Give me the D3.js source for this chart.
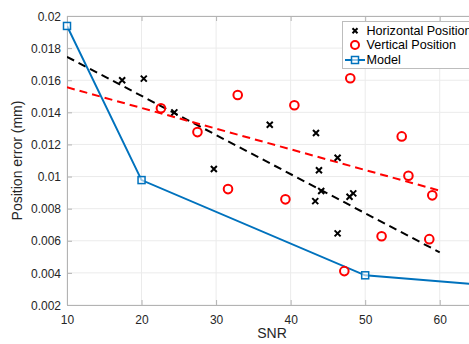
<!DOCTYPE html>
<html>
<head>
<meta charset="utf-8">
<script src="https://cdn.jsdelivr.net/npm/d3@7/dist/d3.min.js"></script>
<style>
  body { margin: 0; background: #fff; }
  svg { display: block; font-family: "Liberation Sans", Arial, Helvetica, sans-serif; }
</style>
</head>
<body>
<svg id="chart" width="469" height="344"></svg>
<script>
// 数据：从图中读取
const horizSNR = [17.4, 20.3, 24.4, 29.7, 37.2, 43.4, 46.3, 43.8, 44.1, 43.3, 47.9, 48.4, 46.3];
const horizErr = [0.0160, 0.0161, 0.0140, 0.01047, 0.01323, 0.01271, 0.01117, 0.01039, 0.0091, 0.00847, 0.00874, 0.00895, 0.00646];

const vertSNR = [22.6, 27.5, 32.9, 31.6, 39.3, 40.5, 48.0, 47.2, 54.9, 55.8, 59.0, 52.2, 58.6];
const vertErr = [0.01425, 0.01277, 0.01508, 0.00922, 0.00858, 0.01444, 0.01612, 0.00411, 0.0125, 0.01005, 0.00883, 0.00628, 0.0061];

const modelSNR = [10, 20, 50, 70];
const modelErr = [0.01938, 0.00978, 0.00385, 0.0031];

// 拟合虚线端点
const horizFitSNR = [10, 60];
const horizFitErr = [0.01746, 0.00528];
const vertFitSNR = [10, 60];
const vertFitErr = [0.01556, 0.00912];

const xTicks = [10, 20, 30, 40, 50, 60];
const yTicks = [0.002, 0.004, 0.006, 0.008, 0.01, 0.012, 0.014, 0.016, 0.018, 0.02];
const legendLabels = ["Horizontal Position", "Vertical Position", "Model"];

// 尺寸
const margin = { left: 67, top: 16, right: 477, bottom: 305 };
const svg = d3.select("#chart");

const x = d3.scaleLinear().domain([10, 65]).range([margin.left, margin.right]);
const y = d3.scaleLinear().domain([0.002, 0.02]).range([margin.bottom, margin.top]);

const textColor = "#262626";
const axisColor = "#b3b3b3";

// 网格
const grid = svg.append("g");
grid.selectAll(".gx").data(xTicks).enter().append("line")
    .attr("x1", d => x(d)).attr("x2", d => x(d))
    .attr("y1", margin.top).attr("y2", margin.bottom)
    .attr("stroke", "#ebebeb").attr("stroke-width", 1);
grid.selectAll(".gy").data(yTicks).enter().append("line")
    .attr("x1", margin.left).attr("x2", margin.right)
    .attr("y1", d => y(d)).attr("y2", d => y(d))
    .attr("stroke", "#ebebeb").attr("stroke-width", 1);

// 坐标轴（刻度朝内）
const fmtY = d => String(+d.toFixed(3));
const xAxis = svg.append("g").attr("transform", `translate(0,${margin.bottom})`)
    .call(d3.axisBottom(x).tickValues(xTicks).tickSizeInner(-5).tickSizeOuter(0).tickPadding(10));
const xAxisTop = svg.append("g").attr("transform", `translate(0,${margin.top})`)
    .call(d3.axisTop(x).tickValues(xTicks).tickSizeInner(-5).tickSizeOuter(0).tickFormat(""));
const yAxis = svg.append("g").attr("transform", `translate(${margin.left},0)`)
    .call(d3.axisLeft(y).tickValues(yTicks).tickSizeInner(-5).tickSizeOuter(0).tickFormat(fmtY).tickPadding(6));

[xAxis, xAxisTop, yAxis].forEach(g => {
    g.select(".domain").attr("stroke", axisColor);
    g.selectAll(".tick line").attr("stroke", axisColor);
    g.selectAll(".tick text").attr("fill", textColor).style("font-size", "12px");
});
yAxis.selectAll(".tick text").attr("dy", "0.35em");

// 轴标签
svg.append("text")
    .attr("x", (margin.left + margin.right) / 2).attr("y", 338)
    .attr("text-anchor", "middle").attr("fill", textColor)
    .style("font-size", "14px").text("SNR");
svg.append("text")
    .attr("transform", `translate(22,${(margin.top + margin.bottom) / 2}) rotate(-90)`)
    .attr("text-anchor", "middle").attr("fill", textColor)
    .style("font-size", "14px").text("Position error (mm)");

// 裁剪区域（只裁线，不裁标记）
svg.append("clipPath").attr("id", "clip")
    .append("rect").attr("x", margin.left).attr("y", margin.top)
    .attr("width", margin.right - margin.left).attr("height", margin.bottom - margin.top);

const plot = svg.append("g").attr("clip-path", "url(#clip)");
const marks = svg.append("g");
const line = d3.line().x(d => x(d[0])).y(d => y(d[1]));

// 拟合虚线
plot.append("path")
    .datum(horizFitSNR.map((s, i) => [s, horizFitErr[i]]))
    .attr("d", line).attr("fill", "none")
    .attr("stroke", "#000").attr("stroke-width", 2).attr("stroke-dasharray", "8,5");
plot.append("path")
    .datum(vertFitSNR.map((s, i) => [s, vertFitErr[i]]))
    .attr("d", line).attr("fill", "none")
    .attr("stroke", "#ff0000").attr("stroke-width", 2).attr("stroke-dasharray", "8,5");

// 模型曲线
const modelData = modelSNR.map((s, i) => [s, modelErr[i]]);
plot.append("path")
    .datum(modelData)
    .attr("d", line).attr("fill", "none")
    .attr("stroke", "#0072BD").attr("stroke-width", 2);
marks.selectAll(".msq").data(modelData).enter().append("rect")
    .attr("x", d => x(d[0]) - 3.5).attr("y", d => y(d[1]) - 3.5)
    .attr("width", 7).attr("height", 7)
    .attr("fill", "#fff").attr("fill-opacity", 0.6)
    .attr("stroke", "#0072BD").attr("stroke-width", 1.5);

// 水平位置（×）
const crossPath = s => `M${-s},${-s}L${s},${s}M${-s},${s}L${s},${-s}`;
marks.selectAll(".hx").data(horizSNR.map((s, i) => [s, horizErr[i]])).enter().append("path")
    .attr("transform", d => `translate(${x(d[0])},${y(d[1])})`)
    .attr("d", crossPath(3)).attr("stroke", "#000").attr("stroke-width", 2).attr("fill", "none");

// 垂直位置（○）
marks.selectAll(".vc").data(vertSNR.map((s, i) => [s, vertErr[i]])).enter().append("circle")
    .attr("cx", d => x(d[0])).attr("cy", d => y(d[1])).attr("r", 4.3)
    .attr("fill", "none").attr("stroke", "#ff0000").attr("stroke-width", 2);

// 图例
const lg = svg.append("g");
lg.append("rect").attr("x", 342.5).attr("y", 21.5).attr("width", 140).attr("height", 47)
    .attr("fill", "#fff").attr("stroke", "#bdbdbd").attr("stroke-width", 1);
const rowY = [30.7, 45, 60];
lg.selectAll("text").data(legendLabels).enter().append("text")
    .attr("x", 366.5).attr("y", (d, i) => rowY[i]).attr("dy", "0.35em")
    .attr("fill", "#000").style("font-size", "12.6px").text(d => d);
lg.append("path").attr("transform", `translate(355,${rowY[0]})`)
    .attr("d", crossPath(2.5)).attr("stroke", "#000").attr("stroke-width", 2);
lg.append("circle").attr("cx", 355).attr("cy", rowY[1]).attr("r", 4)
    .attr("fill", "none").attr("stroke", "#ff0000").attr("stroke-width", 2);
lg.append("line").attr("x1", 345).attr("x2", 365).attr("y1", rowY[2]).attr("y2", rowY[2])
    .attr("stroke", "#0072BD").attr("stroke-width", 2);
lg.append("rect").attr("x", 351.5).attr("y", rowY[2] - 3.5).attr("width", 7).attr("height", 7)
    .attr("fill", "#fff").attr("fill-opacity", 0.6).attr("stroke", "#0072BD").attr("stroke-width", 1.5);
</script>
</body>
</html>
